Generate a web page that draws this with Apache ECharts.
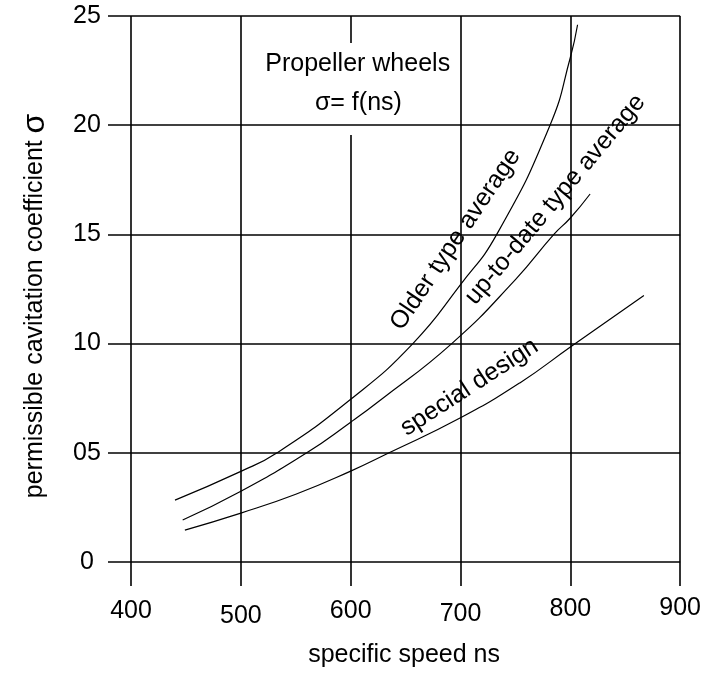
<!DOCTYPE html>
<html>
<head>
<meta charset="utf-8">
<script src="https://cdn.jsdelivr.net/npm/echarts@6/dist/echarts.min.js"></script>
<style>
  html, body { margin: 0; padding: 0; background: #fff; }
  #chart { width: 704px; height: 673px; }
</style>
</head>
<body>
<div id="chart"></div>
<script>
// axis ticks
const xTicks = [400, 500, 600, 700, 800, 900];
const yTicks = [0, 5, 10, 15, 20, 25];
const yTickLabels = ['0', '05', '10', '15', '20', '25'];

// curves: specific speed ns -> cavitation coefficient
const olderNs = [440, 500, 533, 600, 656.6, 700, 733, 781.5, 800, 806.6];
const olderSigma = [2.83, 4.15, 5.0, 7.45, 10.0, 12.7, 15.0, 20.0, 23.1, 24.6];

const modernNs = [447, 500, 560, 600, 626, 692, 750, 785, 800, 818];
const modernSigma = [1.92, 3.24, 5.0, 6.4, 7.37, 10.0, 12.93, 15.0, 15.75, 16.85];

const specialNs = [449, 500, 550, 600, 635, 700, 754, 801, 867];
const specialSigma = [1.46, 2.24, 3.1, 4.16, 5.0, 6.6, 8.2, 9.88, 12.2];

const FONT = 'Liberation Sans, Arial, Helvetica, sans-serif';
const textStyle = { fontFamily: FONT, fontSize: 25, color: '#000' };

// the scanned x labels sit a little up and down
const labelDrop = { 400: 3, 500: 8, 600: 3, 700: 6, 800: 1, 900: 0 };
const dropRich = {};
Object.values(labelDrop).forEach(d => {
    dropRich['d' + d] = { ...textStyle, padding: [d, 0, 0, 0] };
});

const chart = echarts.init(document.getElementById('chart'));

const curve = (name, ns, sigma) => ({
    name,
    type: 'line',
    data: ns.map((x, i) => [x, sigma[i]]),
    smooth: 0.5,
    symbol: 'none',
    silent: true,
    z: 4,
    lineStyle: { color: '#000', width: 1.2 },
});

// grid lines as mark lines so they run past the first tick like the drawing
const gridLines = (axis, values, z) => ({
    type: 'line',
    data: [],
    silent: true,
    markLine: {
        z,
        silent: true,
        animation: false,
        symbol: 'none',
        label: { show: false },
        lineStyle: { color: '#000', width: 1.6, type: 'solid' },
        data: values.map(v => ({ [axis]: v })),
    },
});

const option = {
    animation: false,
    backgroundColor: '#fff',
    grid: { left: 108, right: 23, top: 16, bottom: 86 },
    xAxis: {
        type: 'value',
        min: 379,
        max: 900,
        splitLine: { show: false },
        axisLine: { show: false },
        axisTick: { show: false },
        axisLabel: {
            customValues: xTicks,
            margin: 10,
            formatter: v => `{d${labelDrop[v]}|${v}}`,
            rich: dropRich,
            ...textStyle,
        },
        name: 'specific speed ns',
        nameLocation: 'middle',
        nameGap: 57,
        nameTextStyle: { ...textStyle, padding: [0, 0, 0, 20] },
    },
    yAxis: {
        type: 'value',
        min: -1.1,
        max: 25,
        splitLine: { show: false },
        axisLine: { show: false },
        axisTick: { show: false },
        axisLabel: {
            customValues: yTicks,
            margin: 21,
            align: 'center',
            formatter: v => yTickLabels[yTicks.indexOf(v)],
            ...textStyle,
        },
        name: '{t|permissible cavitation coefficient}  {s|σ}',
        nameLocation: 'middle',
        nameRotate: 90,
        nameGap: 57,
        nameTextStyle: {
            padding: [0, 10, 0, 0],
            rich: {
                t: { ...textStyle },
                s: { ...textStyle, fontSize: 32 },
            },
        },
    },
    series: [
        gridLines('xAxis', xTicks, 1),
        gridLines('yAxis', yTicks, 3),
        curve('Older type average', olderNs, olderSigma),
        curve('up-to-date type average', modernNs, modernSigma),
        curve('special design', specialNs, specialSigma),
    ],
};

chart.setOption(option);

// annotations placed in data coordinates
const notes = [
    { text: 'Older type average', at: [695.5, 14.76], angle: 56 },
    { text: 'up-to-date type average', at: [786.4, 16.59], angle: 50 },
    { text: 'special design', at: [708.2, 8.0], angle: 33 },
    { text: 'Propeller wheels', at: [606.4, 22.8], angle: 0 },
    { text: 'σ= f(ns)', at: [607, 21.0], angle: 0 },
];

const px = p => chart.convertToPixel({ gridIndex: 0 }, p);
const title = px(notes[3].at);

chart.setOption({
    graphic: [
        {
            type: 'rect',
            z: 2,
            silent: true,
            shape: { x: title[0] - 96, y: title[1] - 21, width: 193, height: 92 },
            style: { fill: '#fff' },
        },
        ...notes.map(n => {
            const p = px(n.at);
            return {
                type: 'text',
                z: 5,
                silent: true,
                x: p[0],
                y: p[1],
                rotation: n.angle * Math.PI / 180,
                style: {
                    text: n.text,
                    font: `25px ${FONT}`,
                    fill: '#000',
                    align: 'center',
                    textAlign: 'center',
                    verticalAlign: 'middle',
                    textVerticalAlign: 'middle',
                },
            };
        }),
    ],
});
</script>
</body>
</html>
